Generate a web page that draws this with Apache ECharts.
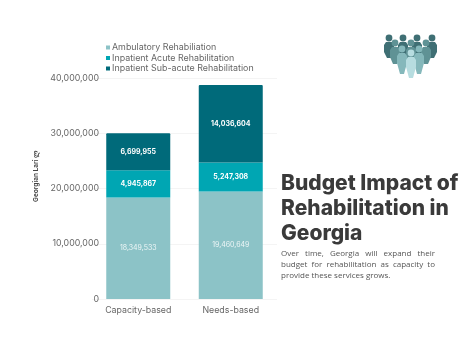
<!DOCTYPE html>
<html>
<head>
<meta charset="utf-8">
<style>
  html, body { margin: 0; padding: 0; background: #fff; }
  #chart { width: 476px; height: 357px; }
</style>
<script src="https://cdn.jsdelivr.net/npm/echarts@6/dist/echarts.min.js"></script>
</head>
<body>
<div id="chart"></div>
<script>
var categories = ['Capacity-based', 'Needs-based'];
var ambulatory = [18349533, 19460649];
var inpatientAcute = [4945867, 5247308];
var subAcute = [6699955, 14036604];
var yTicks = [0, 10000000, 20000000, 30000000, 40000000];
var titleLines = ['Budget Impact of', 'Rehabilitation in', 'Georgia'];
var bodyLines = ['Over time, Georgia will expand their', 'budget for rehabilitation as capacity to', 'provide these services grows.'];

var font = 'Inter';
var fmt = function (v) { return v.toLocaleString('en-US'); };

function barSeries(name, values, color, weight, radius, labelColor) {
  return {
    name: name,
    type: 'bar',
    stack: 'total',
    barWidth: 64,
    data: values,
    itemStyle: { color: color, borderRadius: radius },
    label: {
      show: true,
      position: 'inside',
      color: labelColor,
      fontFamily: font,
      fontSize: 7,
      fontWeight: weight,
      formatter: function (p) { return fmt(p.value); }
    }
  };
}

// spread the words of a line so it fills the width, the paragraph is justified
var ctx = document.createElement('canvas').getContext('2d');
function justified(line, x, y, width, last) {
  var bodyFont = '8px "Open Sans"';
  ctx.font = bodyFont;
  var words = line.split(' ');
  var used = 0;
  words.forEach(function (w) { used += ctx.measureText(w).width; });
  var gap = last ? ctx.measureText(' ').width : (width - used) / (words.length - 1);
  var cx = x;
  return words.map(function (w) {
    var el = { type: 'text', x: cx, y: y, style: { text: w, font: bodyFont, fill: '#555' } };
    cx += ctx.measureText(w).width + gap;
    return el;
  });
}

// small people icon, top right: x, head y, body bottom y, colour
var people = [
  [389, 38, 58, '#3f6f74'], [403, 38, 58, '#3f6f74'], [417, 38, 58, '#3f6f74'], [432, 38, 58, '#3f6f74'],
  [395, 43, 64, '#5f9295'], [426, 43, 64, '#5f9295'], [411, 43, 64, '#5f9295'],
  [402, 49, 74, '#85b8bb'], [419, 49, 74, '#85b8bb'],
  [411, 53, 78, '#b7dde0']
];
var iconEls = people.map(function (p) {
  var x = p[0], y = p[1], b = p[2];
  return {
    type: 'group',
    children: [
      { type: 'circle', shape: { cx: x, cy: y, r: 3.4 }, style: { fill: p[3] } },
      {
        type: 'polygon',
        shape: { points: [[x - 3, y + 4], [x + 3, y + 4], [x + 5, y + 7], [x + 5, y + 14], [x + 2, b], [x - 2, b], [x - 5, y + 14], [x - 5, y + 7]] },
        style: { fill: p[3] }
      }
    ]
  };
});

var titleEls = titleLines.map(function (t, i) {
  return { type: 'text', x: 281, y: 173 + i * 25, style: { text: t, font: '800 21px Inter', fill: '#3a3a3a' } };
});

var bodyEls = [];
bodyLines.forEach(function (l, i) {
  bodyEls = bodyEls.concat(justified(l, 281, 250 + i * 11, 154, i === bodyLines.length - 1));
});

var chart = echarts.init(document.getElementById('chart'), null, { renderer: 'canvas' });
chart.setOption({
  animation: false,
  backgroundColor: '#fff',
  color: ['#8cc3c7', '#00a6b3', '#006a7a'],
  legend: {
    orient: 'vertical',
    left: 101,
    top: 38,
    itemWidth: 4,
    itemHeight: 4,
    itemGap: 1.5,
    icon: 'rect',
    textStyle: { fontFamily: font, fontSize: 8.9, color: '#666', padding: [0, 0, 0, -3] },
    data: ['Ambulatory Rehabiliation', 'Inpatient Acute Rehabilitation', 'Inpatient Sub-acute Rehabilitation']
  },
  grid: { left: 92, right: 199, top: 78, bottom: 58 },
  xAxis: {
    type: 'category',
    data: categories,
    axisLine: { show: false },
    axisTick: { show: false },
    axisLabel: { interval: 0, fontFamily: font, fontSize: 8.8, color: '#666', margin: 7 }
  },
  yAxis: {
    type: 'value',
    min: 0,
    max: 40000000,
    interval: 10000000,
    name: 'Georgian Lari ლ',
    nameLocation: 'middle',
    nameGap: 52,
    nameTextStyle: { fontFamily: font, fontSize: 6.5, fontWeight: 'bold', color: '#444', padding: [0, 0, 0, 24] },
    axisLine: { show: false },
    axisTick: { show: false },
    splitLine: { lineStyle: { color: '#f4f4f4' } },
    axisLabel: {
      fontFamily: font,
      fontSize: 8.8,
      color: '#666',
      margin: -7,
      formatter: function (v) { return yTicks.indexOf(v) >= 0 ? fmt(v) : ''; }
    }
  },
  series: [
    barSeries('Ambulatory Rehabiliation', ambulatory, '#8cc3c7', 'normal', 0, 'rgba(255,255,255,0.85)'),
    barSeries('Inpatient Acute Rehabilitation', inpatientAcute, '#00a6b3', 'bold', 0, '#fff'),
    barSeries('Inpatient Sub-acute Rehabilitation', subAcute, '#006a7a', 'bold', [1, 1, 0, 0], '#fff')
  ],
  graphic: iconEls.concat(titleEls, bodyEls)
});
</script>
</body>
</html>
